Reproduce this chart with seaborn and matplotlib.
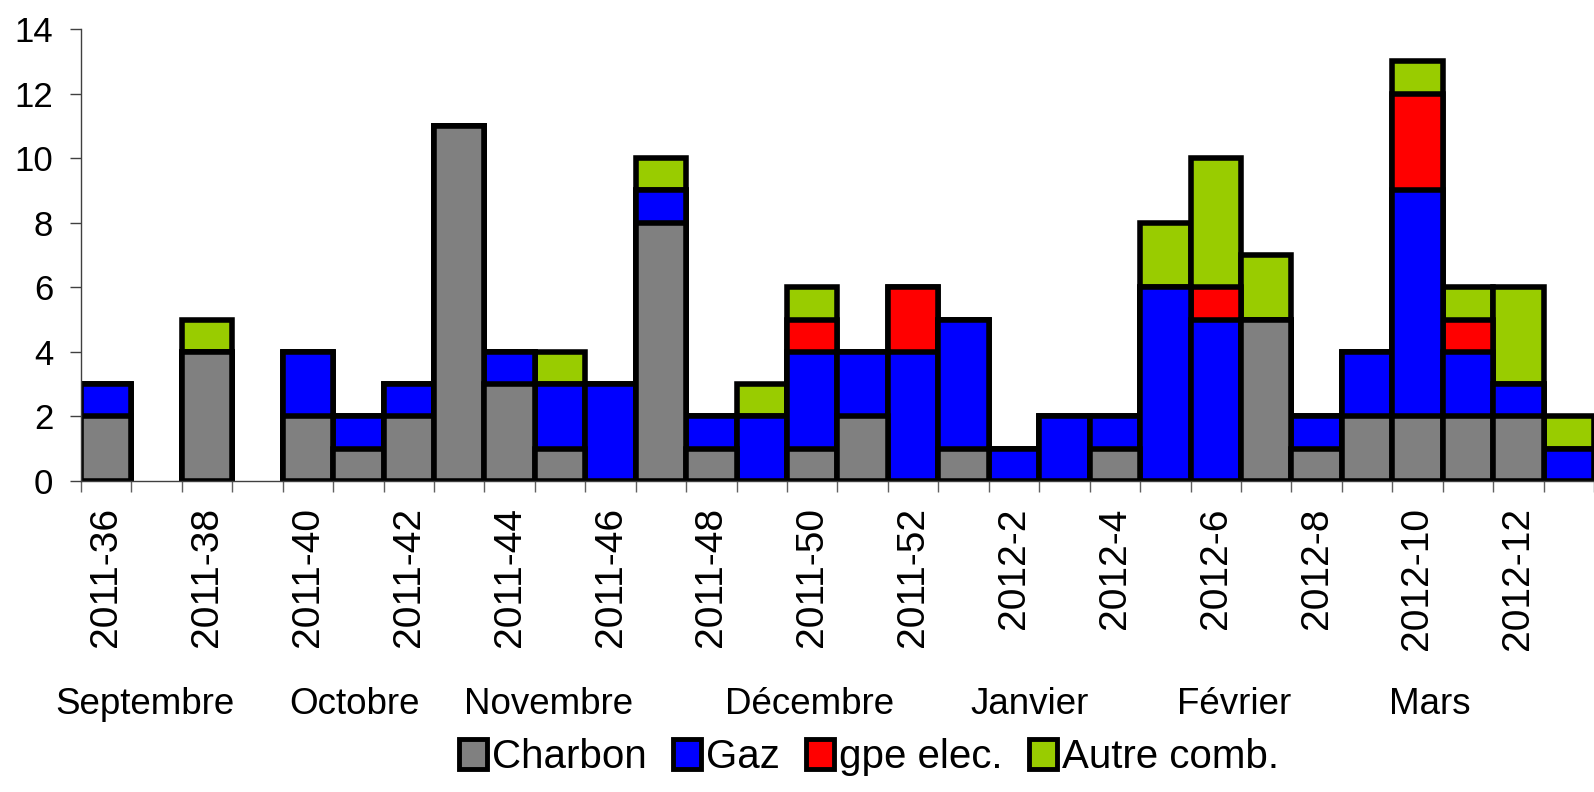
import matplotlib.pyplot as plt
import seaborn as sns
import pandas as pd
from matplotlib.patches import Patch

weeks = ['2011-%d' % w for w in range(36, 53)] + ['2012-%d' % w for w in range(1, 14)]
charbon = [2, 0, 4, 0, 2, 1, 2, 11, 3, 1, 0, 8, 1, 0, 1, 2, 0, 1, 0, 0, 1, 0, 0, 5, 1, 2, 2, 2, 2, 0]
gaz = [1, 0, 0, 0, 2, 1, 1, 0, 1, 2, 3, 1, 1, 2, 3, 2, 4, 4, 1, 2, 1, 6, 5, 0, 1, 2, 7, 2, 1, 1]
gpe_elec = [0, 0, 0, 0, 0, 0, 0, 0, 0, 0, 0, 0, 0, 0, 1, 0, 2, 0, 0, 0, 0, 0, 1, 0, 0, 0, 3, 1, 0, 0]
autre = [0, 0, 1, 0, 0, 0, 0, 0, 0, 1, 0, 1, 0, 1, 1, 0, 0, 0, 0, 0, 0, 2, 4, 2, 0, 0, 1, 1, 3, 1]

series = ['Charbon', 'Gaz', 'gpe elec.', 'Autre comb.']
colors = ['#808080', '#0000FF', '#FF0000', '#99CC00']

months = ['Septembre', 'Octobre', 'Novembre', 'Décembre', 'Janvier', 'Février', 'Mars']
month_pos = [0.76, 4.93, 8.78, 13.95, 18.3, 22.37, 26.25]

df = pd.DataFrame({'week': weeks, 'Charbon': charbon, 'Gaz': gaz,
                   'gpe elec.': gpe_elec, 'Autre comb.': autre})
cum = df[series].cumsum(axis=1)

sns.set_style('white')
plt.rcParams['font.family'] = ['Liberation Sans', 'DejaVu Sans']
plt.rcParams['text.color'] = 'black'

fig = plt.figure(figsize=(15.94, 7.92), dpi=100)
ax = fig.add_axes([0.0508, 0.3927, 0.9492, 0.5707])

# overlay cumulative bars, tallest first
for s, c in zip(series[::-1], colors[::-1]):
    sns.barplot(x=df['week'], y=cum[s], color=c, saturation=1, width=1,
                edgecolor='black', linewidth=4, errorbar=None, ax=ax,
                order=weeks)

for p in ax.patches:
    if p.get_height() == 0:
        p.set_linewidth(0)

ax.set_ylim(0, 14)
ax.set_xlim(-0.5, 29.25)
ax.set_yticks(range(0, 15, 2))
ax.set_xticks(range(0, 30, 2))
ax.set_xticklabels(weeks[::2], rotation=90)
ax.set_xticks([i - 0.5 for i in range(31)], minor=True)
ax.set_xlabel('')
ax.set_ylabel('')

ax.tick_params(axis='y', length=8, width=1, color='#404040', pad=12, labelsize=25,
               labelcolor='black', left=True)
ax.tick_params(axis='x', which='major', length=0, pad=19, labelsize=28, labelcolor='black')
ax.tick_params(axis='x', which='minor', length=8, width=1, color='#606060', bottom=True)

for side in ['top', 'right']:
    ax.spines[side].set_visible(False)
for side in ['left', 'bottom']:
    ax.spines[side].set_color('#404040')
    ax.spines[side].set_linewidth(1)

for m, x in zip(months, month_pos):
    ax.text(x, -0.495, m, transform=ax.get_xaxis_transform(), ha='center',
            va='center', fontsize=26.5, color='black')

handles = [Patch(facecolor=c, edgecolor='black', linewidth=3.5) for c in colors]
fig.legend(handles, series, loc='center', bbox_to_anchor=(0.545, 0.044), ncol=4,
           frameon=False, handlelength=0.7, handleheight=0.75, handletextpad=0.12,
           columnspacing=0.65, fontsize=29, labelcolor='black')

plt.savefig('out.png', dpi=100)
plt.close()
